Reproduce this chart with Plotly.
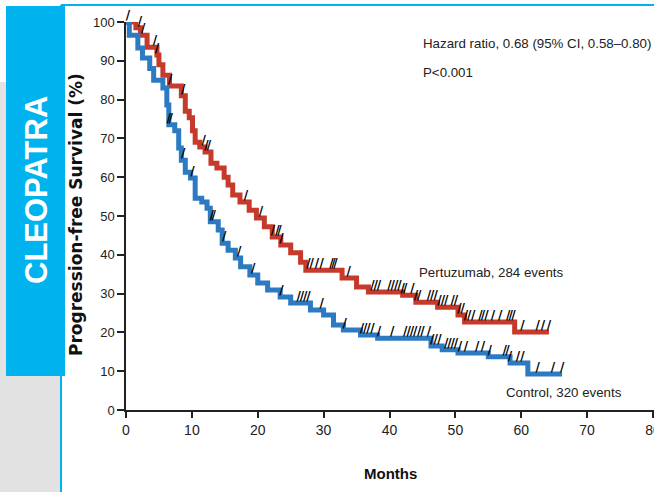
import numpy as np
import plotly.graph_objects as go

# ---------------- data ----------------
x_ticks = [0, 10, 20, 30, 40, 50, 60, 70, 80]
y_ticks = [0, 10, 20, 30, 40, 50, 60, 70, 80, 90, 100]

pert_t = [0, 1.5, 2.2, 3.2, 4.7, 5.0, 5.6, 6.6, 8.4, 9.0, 9.6, 10.1, 10.5, 11.2, 12.0,
          12.9, 13.8, 14.9, 15.5, 16.2, 17.3, 18.7, 19.8, 21.0, 22.2, 23.5, 25.0, 26.5,
          27.3, 32.8, 35.0, 36.8, 42.0, 44.0, 47.3, 50.4, 51.4, 59.0, 64.2]
pert_s = [100, 98.5, 96.6, 93.5, 91.5, 89, 86.3, 83.5, 81, 77, 75.3, 72, 69, 67.8, 66.5,
          63.6, 62.4, 60, 58, 55.4, 53.6, 51.5, 49.5, 47.2, 44.6, 42.5, 40.5, 38.1,
          36, 34, 31.7, 30.4, 29.6, 27.8, 26.5, 24.5, 22.7, 20.1, 20.1]
pert_cens = [0.3, 2.1, 2.6, 4.4, 4.7, 6.7, 8.7, 11.8, 12.2, 12.6, 18.2, 20.5, 22.3, 23.0,
             23.3, 23.6, 27.7, 28.2, 29.0, 29.7, 31.2, 31.5, 31.8, 33.8, 37.4, 37.9, 38.4,
             40.0, 40.5, 41.0, 41.5, 42.0, 42.4, 43.5, 44.0, 44.5, 46.0, 46.5, 47.0, 47.6,
             48.1, 48.6, 49.6, 50.1, 50.6, 51.1, 51.6, 52.1, 52.7, 53.8, 54.2, 54.7, 55.7,
             56.8, 58.0, 58.4, 58.8, 60.2, 62.5, 63.3, 64.2]

ctrl_t = [0, 0.5, 1.8, 2.5, 3.6, 4.2, 5.6, 6.2, 6.5, 7.4, 8.0, 8.4, 9.0, 9.8, 10.5, 11.5,
          12.3, 12.8, 14.0, 14.6, 15.5, 16.6, 17.4, 18.8, 20.0, 21.5, 23.4, 25.0, 28.0,
          30.0, 31.5, 33.0, 35.6, 38.2, 46.3, 48.0, 50.4, 55.0, 58.3, 61.0, 66.2]
ctrl_s = [100, 96.6, 93.3, 90.7, 88, 85, 83, 78.6, 73.5, 72, 67.5, 64.4, 61.3, 59.8, 54.6,
          53.6, 52, 48.5, 46.4, 43, 41.2, 39.2, 36.9, 34.8, 32.7, 30.9, 29.1, 27.6, 25.8,
          24.5, 21.9, 20.6, 19.3, 18.5, 16.5, 15.5, 14.7, 13.7, 12.1, 9.3, 9.3]
ctrl_cens = [6.5, 6.8, 8.7, 10.1, 13.0, 13.3, 14.9, 17.2, 19.3, 23.6, 26.2, 26.7, 27.2,
             27.7, 29.7, 33.2, 35.8, 36.3, 36.8, 37.4, 38.4, 40.4, 42.4, 42.9, 43.4, 43.9,
             44.5, 45.0, 46.0, 46.5, 47.0, 47.6, 48.6, 49.1, 49.6, 50.1, 50.7, 51.6, 53.3,
             54.2, 55.2, 57.5, 57.9, 58.3, 59.5, 60.2, 62.5, 64.8, 66.2]

hr_text = "Hazard ratio, 0.68 (95% CI, 0.58–0.80)"
p_text = "P<0.001"
pert_label = "Pertuzumab, 284 events"
ctrl_label = "Control, 320 events"
side_label = "CLEOPATRA"
x_title = "Months"
y_title = "Progression-free Survival (%)"

RED = "#C63A2C"
BLUE = "#2C7BC2"
CYAN = "#00B3EE"

W, H = 654, 492
ML, MR, MT, MB = 126, 0, 22, 82
PW, PH = W - ML - MR, H - MT - MB


def px(xp):
    return (xp - ML) / PW


def py(yp):
    return (H - MB - yp) / PH


def step_val(t_arr, s_arr, t):
    t_arr = np.asarray(t_arr)
    idx = np.searchsorted(t_arr, t, side="right") - 1
    return np.asarray(s_arr)[np.clip(idx, 0, len(s_arr) - 1)]


TXT = "Liberation Sans, Arial, sans-serif"

fig = go.Figure()
for t, s, col in [(pert_t, pert_s, RED), (ctrl_t, ctrl_s, BLUE)]:
    fig.add_trace(go.Scatter(x=t, y=s, mode="lines", line=dict(color=col, width=5, shape="hv"),
                             cliponaxis=False, showlegend=False, hoverinfo="skip"))
for t, s, c in [(pert_t, pert_s, pert_cens), (ctrl_t, ctrl_s, ctrl_cens)]:
    cy = step_val(t, s, np.array(c))
    fig.add_trace(go.Scatter(x=c, y=cy, mode="text", text=["<b>/</b>"] * len(c),
                             textposition="top center",
                             textfont=dict(color="black", size=12, family="DejaVu Sans"),
                             cliponaxis=False, showlegend=False, hoverinfo="skip"))

xmax = 80 * PW / (653 - ML)

shapes = [
    dict(type="rect", xref="paper", yref="paper", x0=px(0), x1=px(61), y0=py(82), y1=py(492),
         fillcolor="#E2E2E2", line=dict(width=0), layer="below"),
    dict(type="line", xref="paper", yref="paper", x0=px(61), x1=px(61), y0=py(5), y1=py(492),
         line=dict(color=CYAN, width=2), layer="below"),
    dict(type="line", xref="paper", yref="paper", x0=px(61), x1=px(654), y0=py(5), y1=py(5),
         line=dict(color=CYAN, width=2), layer="below"),
    dict(type="rect", xref="paper", yref="paper", x0=px(6), x1=px(65), y0=py(6), y1=py(376),
         fillcolor=CYAN, line=dict(width=0), layer="above"),
]

annotations = [
    dict(text="<b>" + side_label + "</b>", x=px(36), y=py(190), xref="paper", yref="paper",
         showarrow=False, textangle=-90,
         font=dict(family=TXT, size=31, color="white"), xanchor="center", yanchor="middle"),
    dict(text="<b>" + y_title + "</b>", x=px(76), y=py(215), xref="paper",
         yref="paper", showarrow=False, textangle=-90,
         font=dict(family="DejaVu Sans", size=17, color="#111"), xanchor="center", yanchor="middle"),
    dict(text="<b>" + x_title + "</b>", x=px(390), y=py(473), xref="paper", yref="paper",
         showarrow=False, font=dict(family=TXT, size=15, color="#111"),
         xanchor="center", yanchor="middle"),
    dict(text=hr_text, x=px(421), y=py(43), xref="paper", yref="paper", showarrow=False,
         font=dict(family=TXT, size=13.3, color="#222"), xanchor="left", yanchor="middle"),
    dict(text=p_text, x=px(421), y=py(72), xref="paper", yref="paper", showarrow=False,
         font=dict(family=TXT, size=13.3, color="#222"), xanchor="left", yanchor="middle"),
    dict(text=pert_label, x=px(417), y=py(272), xref="paper", yref="paper", showarrow=False,
         font=dict(family=TXT, size=13.3, color="#222"), xanchor="left", yanchor="middle"),
    dict(text=ctrl_label, x=px(504), y=py(392), xref="paper", yref="paper", showarrow=False,
         font=dict(family=TXT, size=13.3, color="#222"), xanchor="left", yanchor="middle"),
]

fig.update_layout(
    width=W, height=H,
    margin=dict(l=ML, r=MR, t=MT, b=MB, pad=0, autoexpand=False),
    paper_bgcolor="white", plot_bgcolor="white",
    shapes=shapes, annotations=annotations,
    xaxis=dict(range=[0, xmax], tickvals=x_ticks, ticktext=[str(v) for v in x_ticks],
               showgrid=False, zeroline=False, showline=True, linecolor="#222", linewidth=1.5,
               ticks="outside", ticklen=6, tickwidth=1.5, tickcolor="#222",
               ticklabeloverflow="allow", automargin=False,
               tickfont=dict(family=TXT, size=14, color="#222")),
    yaxis=dict(range=[0, 100], tickvals=y_ticks, ticktext=[str(v) for v in y_ticks],
               showgrid=False, zeroline=False, showline=True, linecolor="#222", linewidth=1.5,
               ticks="outside", ticklen=7, tickwidth=1.5, tickcolor="#222", automargin=False,
               tickfont=dict(family=TXT, size=13, color="#222")),
)

fig.write_html("out.html")
